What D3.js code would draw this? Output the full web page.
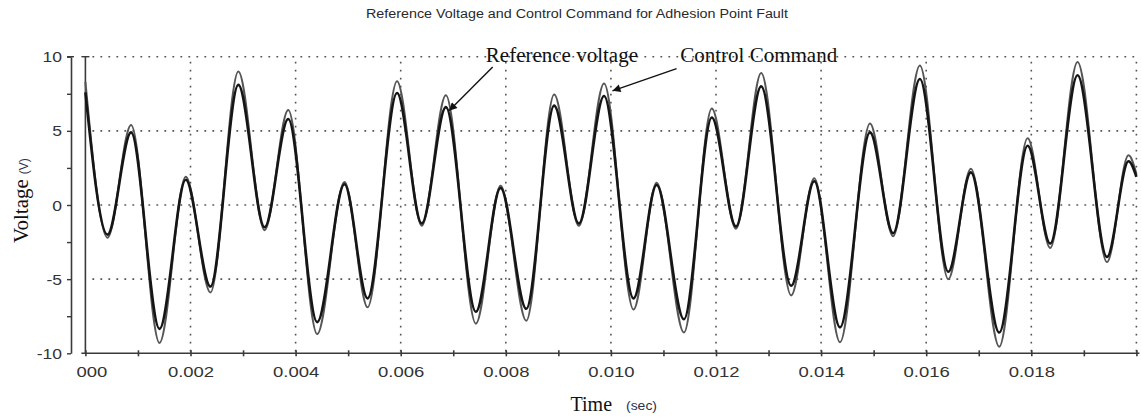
<!DOCTYPE html>
<html>
<head>
<meta charset="utf-8">
<script src="https://cdn.jsdelivr.net/npm/d3@7"></script>
<style>
  html, body { margin: 0; padding: 0; background: #fff; }
  svg { display: block; }
</style>
</head>
<body>
<svg id="chart" width="1141" height="419"></svg>
<script>
// ---- data ----
const times = [0, 0.00042, 0.00087, 0.00141, 0.00191, 0.00238, 0.00291, 0.00341, 0.00386, 0.00441,
  0.00493, 0.00537, 0.00593, 0.00640, 0.00686, 0.00743, 0.00790, 0.00839, 0.00892, 0.00939,
  0.00987, 0.01043, 0.01087, 0.01139, 0.01192, 0.01238, 0.01286, 0.01343, 0.01387, 0.01436,
  0.01493, 0.01537, 0.01588, 0.01642, 0.01685, 0.01739, 0.01793, 0.01836, 0.01888, 0.01944,
  0.01985, 0.02];
// outer (larger amplitude) trace
const controlCommand = [8.3, -2.2, 5.4, -9.3, 1.9, -5.9, 9.0, -1.7, 6.4, -8.7,
  1.55, -6.9, 8.35, -1.4, 7.4, -8.0, 1.3, -7.8, 7.45, -1.4,
  8.2, -7.05, 1.5, -8.6, 6.5, -1.6, 8.9, -6.1, 1.8, -9.25,
  5.5, -2.1, 9.4, -5.0, 2.45, -9.55, 4.5, -2.9, 9.65, -3.85,
  3.35, 2.1];
// inner (smaller amplitude) trace
const referenceVoltage = [7.6, -2.0, 4.9, -8.35, 1.7, -5.5, 8.1, -1.5, 5.8, -7.9,
  1.4, -6.3, 7.55, -1.25, 6.6, -7.2, 1.15, -7.0, 6.7, -1.25,
  7.35, -6.3, 1.35, -7.7, 5.9, -1.45, 8.0, -5.45, 1.6, -8.25,
  4.9, -1.9, 8.5, -4.5, 2.2, -8.6, 4.0, -2.6, 8.75, -3.5,
  2.95, 1.9];
const yTickValues = [-10, -5, 0, 5, 10];
const yTickLabels = ["-10", "-5", "0", "5", "10"];
const yMinorTicks = [-7.5, -2.5, 2.5, 7.5];
const xTickValues = [0, 0.002, 0.004, 0.006, 0.008, 0.010, 0.012, 0.014, 0.016, 0.018];
const xTickLabels = ["000", "0.002", "0.004", "0.006", "0.008", "0.010", "0.012", "0.014", "0.016", "0.018"];
const xMinorTicks = d3.range(0, 21).map(i => i * 0.001);
const xGridValues = [0.002, 0.004, 0.006, 0.008, 0.010, 0.012, 0.014, 0.016, 0.018, 0.020];
const yGridValues = [-5, 0, 5, 10];
const annotationLabels = ["Reference voltage", "Control Command"];
const annotationText = [[0.00762, 9.64], [0.01132, 9.64]];
const annotationTail = [[0.00775, 9.3], [0.01125, 9.2]];
const annotationTip  = [[0.00692, 6.35], [0.01003, 7.7]];
const titleText = "Reference Voltage and Control Command for Adhesion Point Fault";

// ---- layout ----
const svg = d3.select("#chart");
const plotLeft = 85.4, plotRight = 1136.4, plotTop = 56.7, plotBottom = 353.3;
const x = d3.scaleLinear().domain([0, 0.02]).range([plotLeft, plotRight]);
const y = d3.scaleLinear().domain([-10, 10]).range([plotBottom, plotTop]);
const axisColor = "#3a3a3a";
const sans = "'Liberation Sans', Arial, sans-serif";
const serif = "'Liberation Serif', 'Times New Roman', serif";

function stretch(sel, factor) {
  sel.each(function() {
    const w = this.getComputedTextLength();
    d3.select(this).attr("textLength", w * factor).attr("lengthAdjust", "spacingAndGlyphs");
  });
}

// title
svg.append("text")
  .attr("x", 577).attr("y", 17.5)
  .attr("text-anchor", "middle")
  .attr("font-family", sans).attr("font-size", 12.5)
  .attr("fill", "#2a2a2a")
  .attr("textLength", 422).attr("lengthAdjust", "spacingAndGlyphs")
  .text(titleText);

// grid (dotted)
const grid = svg.append("g").attr("stroke", "#555").attr("stroke-width", 1.6)
  .attr("stroke-dasharray", "1.8,6.2");
grid.selectAll("line.h").data(yGridValues).join("line").attr("class", "h")
  .attr("x1", plotLeft + 7).attr("x2", plotRight)
  .attr("y1", d => y(d)).attr("y2", d => y(d));
grid.selectAll("line.v").data(xGridValues).join("line").attr("class", "v")
  .attr("x1", d => x(d)).attr("x2", d => x(d))
  .attr("y1", plotTop + 5).attr("y2", plotBottom);

// left frame line of plot
svg.append("line")
  .attr("x1", x(0)).attr("x2", x(0)).attr("y1", y(10)).attr("y2", y(-10))
  .attr("stroke", axisColor).attr("stroke-width", 1.6);
svg.append("line")
  .attr("x1", x(0) - 4).attr("x2", x(0) + 4).attr("y1", y(10)).attr("y2", y(10))
  .attr("stroke", axisColor).attr("stroke-width", 1.4);

// y axis (separate line to the left)
const yAxisX = 71;
const yAxis = svg.append("g").attr("transform", `translate(${yAxisX},0)`)
  .call(d3.axisLeft(y).tickValues(yTickValues).tickSize(4).tickPadding(5).tickSizeOuter(0)
    .tickFormat((d, i) => yTickLabels[i]));
yAxis.select(".domain").attr("stroke", axisColor).attr("stroke-width", 1.6);
yAxis.selectAll(".tick line").attr("stroke", axisColor).attr("stroke-width", 1.4);
yAxis.selectAll(".tick text").attr("font-family", sans).attr("font-size", 14)
  .attr("fill", "#333").attr("dy", "0.36em");
stretch(yAxis.selectAll(".tick text"), 1.25);
const yMinor = svg.append("g").attr("transform", `translate(${yAxisX},0)`)
  .call(d3.axisLeft(y).tickValues(yMinorTicks).tickSize(4).tickFormat(""));
yMinor.select(".domain").remove();
yMinor.selectAll(".tick line").attr("stroke", axisColor).attr("stroke-width", 1.4);
svg.append("line").attr("x1", yAxisX - 4).attr("x2", yAxisX + 3)
  .attr("y1", y(10)).attr("y2", y(10)).attr("stroke", axisColor).attr("stroke-width", 1.4);

// x axis
const xAxis = svg.append("g").attr("transform", `translate(0,${plotBottom})`)
  .call(d3.axisBottom(x).tickValues(xTickValues).tickSize(0).tickPadding(0)
    .tickFormat((d, i) => xTickLabels[i]));
xAxis.select(".domain").remove();
xAxis.selectAll(".tick text").attr("font-family", sans).attr("font-size", 14)
  .attr("fill", "#333").attr("y", 14).attr("dy", "0.71em")
  .attr("dx", (d, i) => i === 0 ? 6 : 0);
stretch(xAxis.selectAll(".tick text"), 1.32);
const xMinor = svg.append("g").attr("transform", `translate(0,${plotBottom})`)
  .call(d3.axisBottom(x).tickValues(xMinorTicks).tickSize(3).tickFormat(""));
xMinor.select(".domain").remove();
xMinor.selectAll(".tick line").attr("y1", -3).attr("y2", 3)
  .attr("stroke", axisColor).attr("stroke-width", 1.6);
svg.append("line").attr("x1", plotLeft - 4).attr("x2", plotRight + 3)
  .attr("y1", plotBottom).attr("y2", plotBottom)
  .attr("stroke", axisColor).attr("stroke-width", 1.6);

// traces
const line = d3.line().x(d => x(d[0])).y(d => y(d[1])).curve(d3.curveMonotoneX);
svg.append("path")
  .datum(times.map((t, i) => [t, controlCommand[i]]))
  .attr("d", line).attr("fill", "none")
  .attr("stroke", "#555").attr("stroke-width", 2);
svg.append("path")
  .datum(times.map((t, i) => [t, referenceVoltage[i]]))
  .attr("d", line).attr("fill", "none")
  .attr("stroke", "#151515").attr("stroke-width", 2.6);

// annotations
const defs = svg.append("defs");
defs.append("marker").attr("id", "arrow")
  .attr("viewBox", "0 0 10 10").attr("refX", 10).attr("refY", 5)
  .attr("markerWidth", 10).attr("markerHeight", 8).attr("markerUnits", "userSpaceOnUse")
  .attr("orient", "auto")
  .append("path").attr("d", "M0,0 L10,5 L0,10 Z").attr("fill", "#111");
annotationLabels.forEach((label, i) => {
  svg.append("line")
    .attr("x1", x(annotationTail[i][0])).attr("y1", y(annotationTail[i][1]))
    .attr("x2", x(annotationTip[i][0])).attr("y2", y(annotationTip[i][1]))
    .attr("stroke", "#111").attr("stroke-width", 1.4)
    .attr("marker-end", "url(#arrow)");
  svg.append("text")
    .attr("x", x(annotationText[i][0])).attr("y", y(annotationText[i][1]))
    .attr("font-family", serif).attr("font-size", 21).attr("fill", "#111")
    .text(label);
});

// axis titles
svg.append("text")
  .attr("x", 570.5).attr("y", 411)
  .attr("font-family", serif).attr("font-size", 20).attr("fill", "#111")
  .text("Time");
svg.append("text")
  .attr("x", 626).attr("y", 410)
  .attr("font-family", sans).attr("font-size", 12).attr("fill", "#2a3050")
  .attr("textLength", 31).attr("lengthAdjust", "spacingAndGlyphs")
  .text("(sec)");

const yl = svg.append("text")
  .attr("transform", "translate(28,243) rotate(-90)")
  .attr("font-family", serif).attr("font-size", 21).attr("fill", "#111");
yl.append("tspan").text("Voltage");
yl.append("tspan").attr("dx", 5).attr("font-family", sans).attr("font-size", 12)
  .attr("fill", "#2a3050").text("(V)");
</script>
</body>
</html>
